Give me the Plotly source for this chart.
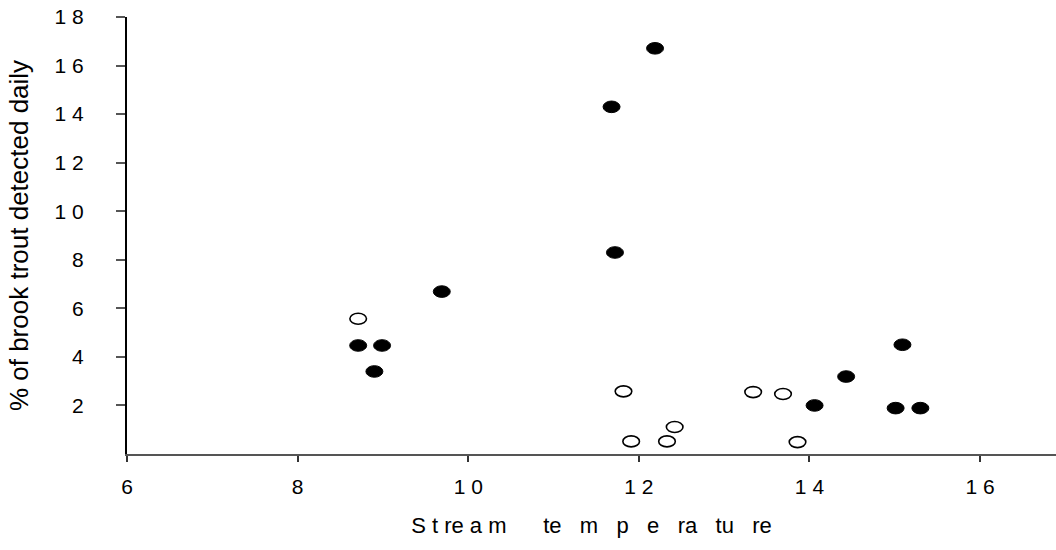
import plotly.graph_objects as go

NB = "\u00a0"

# Data
filled_x = [8.71, 8.99, 8.90, 9.69, 11.68, 11.72, 12.19, 14.06, 14.43, 15.01, 15.09, 15.30]
filled_y = [4.47, 4.47, 3.40, 6.69, 14.30, 8.30, 16.71, 2.00, 3.19, 1.89, 4.50, 1.89]
open_x = [8.71, 11.82, 11.91, 12.33, 12.42, 13.34, 13.69, 13.86]
open_y = [5.57, 2.58, 0.52, 0.52, 1.11, 2.55, 2.47, 0.49]

x_ticks = [6, 8, 10, 12, 14, 16]
y_ticks = [2, 4, 6, 8, 10, 12, 14, 16, 18]


def spaced(v):
    return NB.join(str(v))


x_title = NB.join(["S", "t", "re", "a", "m"]) + NB * 6 + (NB * 3).join(["te", "m", "p", "e", "ra", "tu", "re"])
y_title = "% of brook trout detected daily"

FONT = "Liberation Sans, Arial, sans-serif"

fig = go.Figure()
fig.add_trace(go.Scatter(x=filled_x, y=filled_y, mode="markers", name="filled",
                         marker=dict(size=12, color="black", opacity=0), showlegend=False))
fig.add_trace(go.Scatter(x=open_x, y=open_y, mode="markers", name="open",
                         marker=dict(size=12, color="white", opacity=0), showlegend=False))

shapes = []
for xv, yv in zip(filled_x, filled_y):
    shapes.append(dict(type="circle", xref="x", yref="y", xsizemode="pixel", ysizemode="pixel",
                       xanchor=xv, yanchor=yv, x0=-8.5, x1=8.5, y0=-5.8, y1=5.8,
                       fillcolor="black", line=dict(color="black", width=1)))
for xv, yv in zip(open_x, open_y):
    shapes.append(dict(type="circle", xref="x", yref="y", xsizemode="pixel", ysizemode="pixel",
                       xanchor=xv, yanchor=yv, x0=-8.3, x1=8.3, y0=-5.5, y1=5.5,
                       fillcolor="white", line=dict(color="black", width=1.6)))

fig.update_layout(
    width=1056, height=550,
    margin=dict(l=127, r=0, t=17, b=96),
    paper_bgcolor="white", plot_bgcolor="white",
    font=dict(family=FONT, color="black", size=20),
    shapes=shapes,
    showlegend=False,
)
fig.update_xaxes(
    range=[6, 16.89], showgrid=False, zeroline=False,
    showline=True, linecolor="#555555", linewidth=2,
    ticks="outside", ticklen=6, tickwidth=1.5, tickcolor="#333333",
    tickvals=x_ticks, ticktext=[spaced(v) for v in x_ticks],
    tickfont=dict(size=21), ticklabelstandoff=7,
    title=dict(text=x_title, font=dict(size=22), standoff=20),
)
fig.update_yaxes(
    range=[0, 18], showgrid=False, zeroline=False,
    showline=True, linecolor="black", linewidth=2,
    ticks="outside", ticklen=9, tickwidth=1.5, tickcolor="#555555",
    tickvals=y_ticks, ticktext=[spaced(v) for v in y_ticks],
    tickfont=dict(size=21), ticklabelstandoff=28,
    title=dict(text=y_title, font=dict(size=26), standoff=18),
)

fig.write_html("out.html")
